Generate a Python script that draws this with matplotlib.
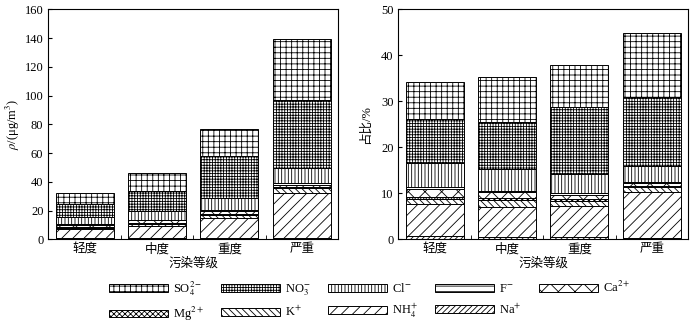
import numpy as np
import matplotlib
matplotlib.use("Agg")
import matplotlib.pyplot as plt
from matplotlib.patches import Patch

plt.rcParams['font.family'] = ['Liberation Serif', 'Noto Sans CJK SC']
plt.rcParams['mathtext.fontset'] = 'stix'
plt.rcParams['font.size'] = 8
plt.rcParams['hatch.linewidth'] = 0.6

categories = ['轻度', '中度', '重度', '严重']

# ions, bottom to top of the stack
ions = ['Na$^{+}$', 'NH$_4^{+}$', 'K$^{+}$', 'Mg$^{2+}$', 'Ca$^{2+}$',
        'F$^{-}$', 'Cl$^{-}$', 'NO$_3^{-}$', 'SO$_4^{2-}$']

# concentration, ug/m3
conc_na = [0.6, 0.6, 1.2, 1.2]
conc_nh4 = [6.5, 8.6, 13.6, 31.2]
conc_k = [0.9, 1.8, 2.0, 3.1]
conc_mg = [0.5, 0.7, 0.8, 0.9]
conc_ca = [1.7, 1.7, 2.0, 1.6]
conc_f = [0.4, 0.4, 0.6, 0.9]
conc_cl = [5.0, 5.9, 8.6, 10.4]
conc_no3 = [8.9, 13.6, 29.4, 47.8]
conc_so4 = [7.5, 12.6, 18.8, 42.5]

# share, %
pct_na = [0.7, 0.5, 0.6, 0.4]
pct_nh4 = [7.0, 6.6, 6.7, 10.0]
pct_k = [1.0, 1.4, 1.0, 1.0]
pct_mg = [0.5, 0.5, 0.4, 0.3]
pct_ca = [1.8, 1.3, 1.0, 0.5]
pct_f = [0.4, 0.3, 0.3, 0.3]
pct_cl = [5.3, 4.6, 4.2, 3.4]
pct_no3 = [9.4, 10.4, 14.5, 15.1]
pct_so4 = [8.1, 9.6, 9.2, 13.9]

conc = [conc_na, conc_nh4, conc_k, conc_mg, conc_ca, conc_f, conc_cl, conc_no3, conc_so4]
pct = [pct_na, pct_nh4, pct_k, pct_mg, pct_ca, pct_f, pct_cl, pct_no3, pct_so4]

hatches = ['//////', '///', '\\\\\\\\\\', 'xxxxxx', 'xx', '---', '|||||', '++++++', '+++']


def stacked(ax, data, ymax, yticks, ylabel):
    x = np.arange(len(categories))
    bottom = np.zeros(len(categories))
    for vals, h in zip(data, hatches):
        ax.bar(x, vals, 0.8, bottom=bottom, color='white', edgecolor='black',
               hatch=h, linewidth=0.7)
        bottom += np.array(vals)
    ax.set_xlim(-0.5, 3.5)
    ax.set_ylim(0, ymax)
    ax.set_yticks(yticks)
    ax.set_xticks(x)
    ax.set_xticklabels(categories, fontsize=9)
    ax.set_xticks(x[:-1] + 0.5, minor=True)
    ax.tick_params(axis='x', which='major', length=0, pad=3)
    ax.tick_params(axis='x', which='minor', direction='in', length=3)
    ax.tick_params(axis='y', direction='in', length=3, labelsize=9)
    ax.set_xlabel('污染等级', fontsize=9, labelpad=1)
    ax.set_ylabel(ylabel, fontsize=9)
    ax.yaxis.set_label_coords(-0.09, 0.5)


fig = plt.figure(figsize=(7, 3.23), dpi=100)
ax1 = fig.add_axes([0.069, 0.259, 0.414, 0.712])
ax2 = fig.add_axes([0.569, 0.259, 0.414, 0.712])

stacked(ax1, conc, 160, range(0, 161, 20), r'$\rho$/(μg/m$^3$)')
stacked(ax2, pct, 50, range(0, 51, 10), '占比/%')

# legend: two rows, filled row by row
handles = [Patch(facecolor='white', edgecolor='black', hatch=h, linewidth=0.7)
           for h in hatches]
order = [8, 3, 7, 2, 6, 1, 5, 0, 4]
fig.legend([handles[i] for i in order], [ions[i] for i in order],
           ncol=5, loc='upper left', bbox_to_anchor=(103 / 700, 1 - 273 / 323),
           frameon=False, borderpad=0, handlelength=4.7, handleheight=0.6,
           handletextpad=0.4, columnspacing=1.4, labelspacing=0.55, fontsize=9)

fig.savefig('out.png', dpi=100)
